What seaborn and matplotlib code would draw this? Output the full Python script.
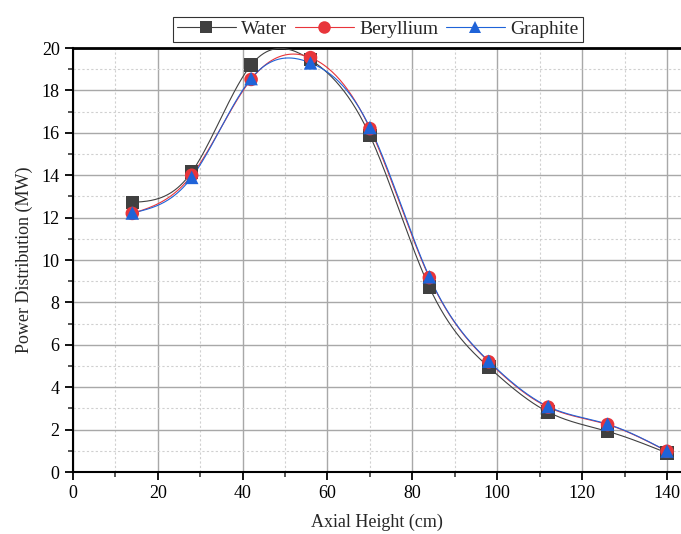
import numpy as np
import pandas as pd
import matplotlib
matplotlib.use("Agg")
import matplotlib.pyplot as plt
import seaborn as sns
from matplotlib.lines import Line2D
from matplotlib.ticker import MultipleLocator

# === Data ===
heights = [14, 28, 42, 56, 70, 84, 98, 112, 126, 140]
water = [12.72, 14.15, 19.2, 19.45, 15.87, 8.72, 4.95, 2.83, 1.92, 0.9]
beryllium = [12.2, 14.0, 18.52, 19.55, 16.2, 9.17, 5.2, 3.06, 2.24, 0.98]
graphite = [12.22, 13.9, 18.56, 19.3, 16.25, 9.21, 5.23, 3.09, 2.26, 0.99]

series_names = ["Water", "Beryllium", "Graphite"]
series_values = [water, beryllium, graphite]
colors = ["#404040", "#e8353b", "#1f63d8"]
markers = ["s", "o", "^"]


def natural_spline(x, y, n=400):
    # plain natural cubic spline, only used to draw the smooth connecting line
    x = np.asarray(x, float)
    y = np.asarray(y, float)
    h = np.diff(x)
    k = len(x)
    A = np.zeros((k, k))
    b = np.zeros(k)
    A[0, 0] = A[-1, -1] = 1
    for i in range(1, k - 1):
        A[i, i - 1] = h[i - 1]
        A[i, i] = 2 * (h[i - 1] + h[i])
        A[i, i + 1] = h[i]
        b[i] = 6 * ((y[i + 1] - y[i]) / h[i] - (y[i] - y[i - 1]) / h[i - 1])
    M = np.linalg.solve(A, b)
    xs = np.linspace(x[0], x[-1], n)
    idx = np.clip(np.searchsorted(x, xs) - 1, 0, k - 2)
    x0, x1 = x[idx], x[idx + 1]
    hh = x1 - x0
    t0, t1 = x1 - xs, xs - x0
    ys = (M[idx] * t0 ** 3 + M[idx + 1] * t1 ** 3) / (6 * hh) \
        + (y[idx] / hh - M[idx] * hh / 6) * t0 \
        + (y[idx + 1] / hh - M[idx + 1] * hh / 6) * t1
    return xs, ys


points = pd.DataFrame({
    "Height": heights * 3,
    "Power": water + beryllium + graphite,
    "Material": [n for n in series_names for _ in heights],
})

# === Plot Setup ===
sns.set_theme(style="white")
plt.rcParams["font.family"] = ["Liberation Serif", "DejaVu Serif"]
fig = plt.figure(figsize=(6.81, 5.34), dpi=100)
ax = fig.add_axes([0.107, 0.116, 0.893, 0.794])

for name, vals, c in zip(series_names, series_values, colors):
    xs, ys = natural_spline(heights, vals)
    curve = pd.DataFrame({"Height": xs, "Power": ys})
    sns.lineplot(data=curve, x="Height", y="Power", color=c, linewidth=0.8, ax=ax,
                 sort=False, zorder=3)

sns.scatterplot(data=points, x="Height", y="Power", hue="Material", style="Material",
                palette=dict(zip(series_names, colors)),
                markers=dict(zip(series_names, markers)),
                s=95, edgecolor="none", ax=ax, legend=False, zorder=4)

# === Axes ===
ax.set_xlim(0, 143.3)
ax.set_ylim(0, 20)
ax.xaxis.set_major_locator(MultipleLocator(20))
ax.xaxis.set_minor_locator(MultipleLocator(10))
ax.yaxis.set_major_locator(MultipleLocator(2))
ax.yaxis.set_minor_locator(MultipleLocator(1))
ax.grid(which="major", color="#a8a8a8", linewidth=1.0, linestyle="-")
ax.grid(which="minor", color="#d0d0d0", linewidth=0.8, linestyle=(0, (2, 2)))
ax.set_axisbelow(True)

for side in ["left", "bottom"]:
    ax.spines[side].set_color("black")
    ax.spines[side].set_linewidth(1.5)
ax.spines["top"].set_color("black")
ax.spines["top"].set_linewidth(2)
ax.spines["right"].set_visible(False)

ax.tick_params(which="major", direction="out", length=6, width=1.3, colors="black",
               labelsize=13, left=True, bottom=True)
ax.tick_params(which="minor", direction="out", length=3.5, width=1.1, left=True, bottom=True)

ax.set_xlabel("Axial Height (cm)", fontsize=13, labelpad=8)
ax.set_ylabel("Power Distribution (MW)", fontsize=13, labelpad=6)

handles = [Line2D([], [], color=c, marker=m, markersize=9, linewidth=0.8, markeredgewidth=0)
           for c, m in zip(colors, markers)]
leg = fig.legend(handles, series_names, loc="center", bbox_to_anchor=(0.555, 0.945),
                 ncol=3, frameon=True, fontsize=14, handlelength=3.0, handletextpad=0.3,
                 columnspacing=0.4, borderpad=0.2, fancybox=False)
leg.get_frame().set_edgecolor("black")
leg.get_frame().set_linewidth(0.8)

fig.savefig("out.png", dpi=100)
